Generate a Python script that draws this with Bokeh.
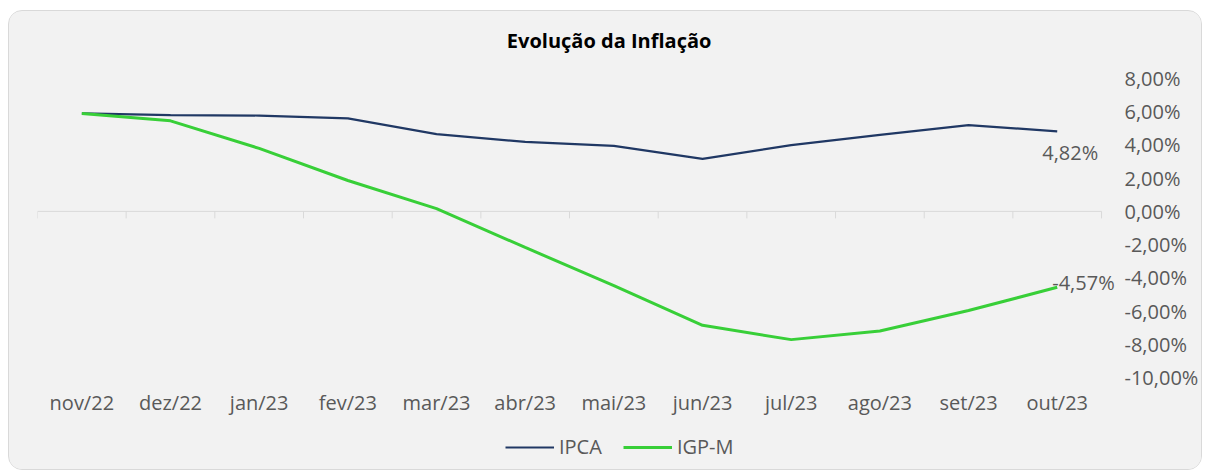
import math
from bokeh.plotting import figure
from bokeh.layouts import column
from bokeh.models import (Range1d, FixedTicker, Legend, LegendItem, ColumnDataSource, Label)
from bokeh.embed import file_html
from bokeh.resources import INLINE

months = ["nov/22", "dez/22", "jan/23", "fev/23", "mar/23", "abr/23",
          "mai/23", "jun/23", "jul/23", "ago/23", "set/23", "out/23"]
ipca = [5.90, 5.79, 5.77, 5.60, 4.65, 4.18, 3.94, 3.16, 3.99, 4.61, 5.19, 4.82]
igpm = [5.90, 5.45, 3.79, 1.86, 0.17, -2.17, -4.47, -6.86, -7.72, -7.20, -5.97, -4.57]
y_ticks = [8, 6, 4, 2, 0, -2, -4, -6, -8, -10]
y_tick_labels = ["8,00%", "6,00%", "4,00%", "2,00%", "0,00%", "-2,00%",
                 "-4,00%", "-6,00%", "-8,00%", "-10,00%"]
title_text = "Evolução da Inflação"

FONT = "Open Sans"
GRAY = "#595959"
BG = "#f2f2f2"
IPCA_C = "#203864"
IGPM_C = "#38cf38"
FS = "20px"

xs = list(range(len(months)))
n = len(months)
cat_px = 1067 / n          # pixel width of one category
extra_px = 21              # room right of last category for the data label
x_end = n - 0.5 + extra_px / cat_px
frame_w = 1067 + extra_px

W = 1192
HEAD_H = 50

# title strip
hd = figure(width=W, height=HEAD_H, output_backend="svg", toolbar_location=None,
            x_range=Range1d(0, W), y_range=Range1d(0, HEAD_H), min_border=0)
hd.axis.visible = False
hd.grid.visible = False
hd.outline_line_color = None
hd.background_fill_color = BG
hd.border_fill_color = BG
hd.add_layout(Label(x=W / 2 + 32, y=HEAD_H - 29, text=title_text, text_align="center",
                    text_baseline="middle", text_font=FONT, text_font_size=FS,
                    text_font_style="bold", text_color="#000000"))

p = figure(width=W, height=17 + 299 + 45, output_backend="svg", toolbar_location=None,
           x_range=Range1d(-0.5, x_end), y_range=Range1d(min(y_ticks), max(y_ticks)),
           y_axis_location="right", min_border_left=28, min_border_right=W - 28 - frame_w,
           min_border_top=17, min_border_bottom=45)
p.background_fill_color = BG
p.border_fill_color = BG
p.outline_line_color = None
p.grid.visible = False

# y axis (right)
ya = p.yaxis[0]
ya.ticker = FixedTicker(ticks=y_ticks)
ya.major_label_overrides = {t: l for t, l in zip(y_ticks, y_tick_labels)}
ya.axis_line_color = None
ya.major_tick_line_color = None
ya.minor_tick_line_color = None
ya.major_tick_out = 0
ya.major_label_standoff = 2
ya.major_label_text_font = FONT
ya.major_label_text_font_size = FS
ya.major_label_text_color = GRAY

# x axis labels (bottom)
xa = p.xaxis[0]
xa.ticker = FixedTicker(ticks=xs)
xa.major_label_overrides = {i: m for i, m in zip(xs, months)}
xa.axis_line_color = None
xa.major_tick_line_color = None
xa.minor_tick_line_color = None
xa.major_tick_out = 0
xa.major_label_standoff = 11
xa.major_label_text_font = FONT
xa.major_label_text_font_size = FS
xa.major_label_text_color = GRAY

# category axis line at zero with boundary ticks
bounds = [i - 0.5 for i in range(n + 1)]
p.segment(x0=[bounds[0]], y0=[0], x1=[bounds[-1]], y1=[0], line_color="#d9d9d9", line_width=1)
p.ray(x=bounds, y=[0] * len(bounds), length=7, length_units="screen",
      angle=-math.pi / 2, line_color="#d9d9d9", line_width=1)

src = ColumnDataSource(dict(x=xs, ipca=ipca, igpm=igpm))
p.line("x", "ipca", source=src, line_color=IPCA_C, line_width=2.2)
p.line("x", "igpm", source=src, line_color=IGPM_C, line_width=3)

def fmt(v):
    return f"{v:.2f}".replace(".", ",") + "%"

p.add_layout(Label(x=xs[-1], y=ipca[-1], text=fmt(ipca[-1]), x_offset=13, y_offset=-21,
                   text_align="center", text_baseline="middle", text_font=FONT,
                   text_font_size=FS, text_color=GRAY))
p.add_layout(Label(x=xs[-1], y=igpm[-1], text=fmt(igpm[-1]), x_offset=-5, y_offset=5,
                   text_align="left", text_baseline="middle", text_font=FONT,
                   text_font_size=FS, text_color=GRAY))

# legend strip (series drawn out of view; only the legend is visible)
lg = figure(width=W, height=47, output_backend="svg", toolbar_location=None,
            x_range=Range1d(0, 1), y_range=Range1d(100, 101), min_border=0)
lg.axis.visible = False
lg.grid.visible = False
lg.outline_line_color = None
lg.background_fill_color = BG
lg.border_fill_color = BG
g1 = lg.line("x", "ipca", source=src, line_color=IPCA_C, line_width=2.2)
g2 = lg.line("x", "igpm", source=src, line_color=IGPM_C, line_width=3)
legend = Legend(items=[LegendItem(label="IPCA", renderers=[g1]),
                       LegendItem(label="IGP-M", renderers=[g2])],
                orientation="horizontal", location=(468, 9),
                background_fill_alpha=0, border_line_alpha=0,
                label_text_font=FONT, label_text_font_size=FS, label_text_color=GRAY,
                glyph_width=49, label_standoff=5, spacing=21, padding=0, margin=0)
lg.add_layout(legend)

layout = column(hd, p, lg, spacing=0)
layout.styles = {"margin-left": "8px", "margin-top": "10px", "border-radius": "14px",
                 "border": "1px solid #d9d9d9", "overflow": "hidden",
                 "background-color": BG}

open("out.html", "w").write(file_html(layout, INLINE))
